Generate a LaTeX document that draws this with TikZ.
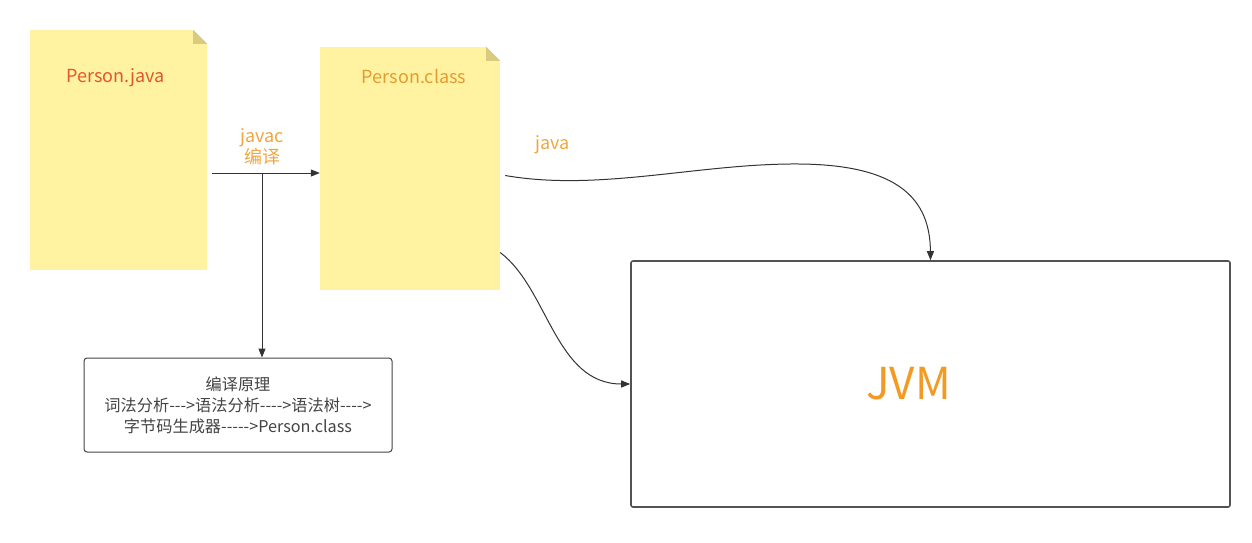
\documentclass[tikz,border=0pt]{standalone}
\usepackage{fontspec}
\setmainfont{Noto Sans CJK SC}[Ligatures=TeXOff]
\usetikzlibrary{arrows.meta,positioning}
\definecolor{note-yellow}{HTML}{FFF3A1}
\definecolor{note-fold}{HTML}{D8CB7E}
\definecolor{java-red}{HTML}{E2562C}
\definecolor{class-orange}{HTML}{E49C30}
\definecolor{label-orange}{HTML}{F0A640}
\definecolor{jvm-orange}{HTML}{F39A22}
\definecolor{line-gray}{HTML}{333333}
\definecolor{text-gray}{HTML}{444444}
\tikzset{
    note-box/.style = {fill=note-yellow, rectangle, inner sep=0pt},
    note-title/.style = {font=\fontsize{18}{21}\selectfont, inner sep=0pt},
    flow-label/.style = {text=label-orange, font=\fontsize{18}{21}\selectfont, align=center, inner sep=0pt},
    theory-box/.style = {draw=text-gray, fill=white, line width=1pt, rectangle, rounded corners=3pt, minimum width=308pt, minimum height=94pt, text=text-gray, align=center, font=\fontsize{16.2}{21}\selectfont},
    jvm-box/.style = {draw=line-gray!85, line width=1.6pt, rectangle, rounded corners=2pt, minimum width=599pt, minimum height=246pt},
    jvm-title/.style = {text=jvm-orange, font=\fontsize{44}{50}\selectfont, inner sep=0pt},
    flow-arrow/.style = {draw=line-gray, line width=1pt, -{Triangle[length=9pt,width=7pt]}},
}
\begin{document}
\begin{tikzpicture}[x=1pt, y=-1pt]
\useasboundingbox (0,0) rectangle (1252,542);
% source file and class file
\node [note-box, minimum width=177pt, minimum height=240pt] (java-file) at (118.5,150) {};
\node [note-box, minimum width=180pt, minimum height=243pt] (class-file) at (410,168.5) {};
\foreach \n in {java-file, class-file} {
    \fill [white] (\n.north east) -- ++(-14,0) -- ++(14,14) -- cycle;
    \fill [note-fold] ([xshift=-14pt]\n.north east) -- ++(0,14) -- ++(14,0) -- cycle;
}
\node [note-title, text=java-red] (java-title) at ([xshift=-3pt, yshift=-48pt]java-file.north) {Person.java};
\node [note-title, text=class-orange] (class-title) at ([xshift=4pt, yshift=-30pt]class-file.north) {Person.class};
% compile step
\coordinate (fork) at (262,173);
\draw [flow-arrow] ([xshift=5pt]java-file.east |- fork) -- (class-file.west |- fork);
\node [flow-label] (javac-label) at ([yshift=26pt]fork) {javac\\编译};
\node [theory-box] (theory) at (238,405) {编译原理\\词法分析--->语法分析---->语法树---->\\字节码生成器----->Person.class};
\draw [flow-arrow] (fork) -- (fork |- theory.north);
% run step
\node [jvm-box] (jvm) at (930.5,384) {};
\node [jvm-title] (jvm-title) at ([xshift=-22pt]jvm.center) {JVM};
\node [flow-label] (java-label) at (553,145) {java};
\draw [flow-arrow] ([xshift=5pt, yshift=-7pt]class-file.east) .. controls (600,192) and (700,163) .. (800,164) .. controls (900,165) and (930,200) .. (jvm.north);
\draw [flow-arrow] ([yshift=-84pt]class-file.east) .. controls +(48,36) and +(-75,0) .. (jvm.west);
\end{tikzpicture}
\end{document}
